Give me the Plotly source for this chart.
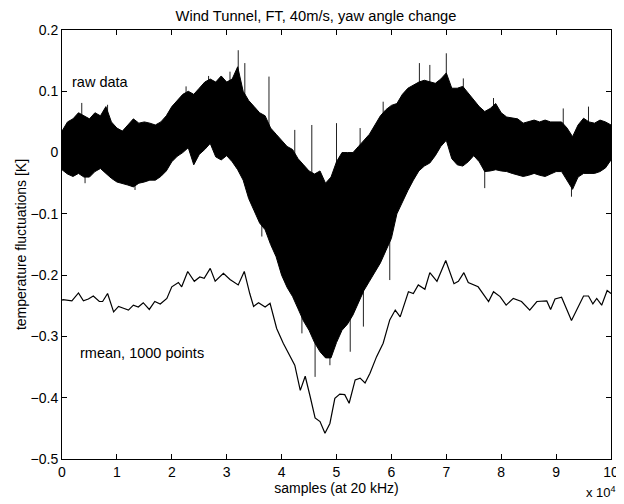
import plotly.graph_objects as go

# ---------------- data (x in units of 10^4 samples) ----------------
raw_x = [round(i * 0.1, 1) for i in range(101)]
raw_upper = [0.035, 0.05, 0.055, 0.065, 0.06, 0.055, 0.065, 0.06, 0.075, 0.05,
             0.04, 0.035, 0.045, 0.055, 0.048, 0.05, 0.048, 0.045, 0.05, 0.06,
             0.075, 0.085, 0.095, 0.10, 0.095, 0.105, 0.115, 0.12, 0.115, 0.125,
             0.115, 0.12, 0.14, 0.10, 0.085, 0.075, 0.065, 0.06, 0.04, 0.03,
             0.02, 0.01, 0.005, -0.01, -0.02, -0.03, -0.035, -0.03, -0.05, -0.04,
             -0.015, 0.0, 0.0, 0.0, 0.01, 0.02, 0.03, 0.045, 0.06, 0.07,
             0.077, 0.08, 0.095, 0.105, 0.11, 0.115, 0.118, 0.116, 0.113, 0.12,
             0.13, 0.105, 0.105, 0.108, 0.097, 0.085, 0.075, 0.067, 0.072, 0.08,
             0.065, 0.058, 0.056, 0.055, 0.048, 0.05, 0.053, 0.05, 0.053, 0.05,
             0.05, 0.05, 0.04, 0.026, 0.045, 0.056, 0.05, 0.048, 0.053, 0.05,
             0.045]
raw_lower = [-0.028, -0.035, -0.039, -0.034, -0.04, -0.04, -0.031, -0.026, -0.034, -0.042,
             -0.048, -0.05, -0.053, -0.056, -0.05, -0.048, -0.045, -0.045, -0.039, -0.03,
             -0.015, -0.006, 0.0, 0.008, -0.02, -0.003, 0.005, 0.015, -0.007, -0.012,
             -0.005, -0.015, -0.028, -0.045, -0.075, -0.095, -0.115, -0.126, -0.15, -0.17,
             -0.2, -0.22, -0.235, -0.255, -0.275, -0.29, -0.31, -0.325, -0.335, -0.335,
             -0.31, -0.29, -0.28, -0.265, -0.245, -0.225, -0.21, -0.195, -0.18, -0.16,
             -0.14, -0.1, -0.08, -0.062, -0.045, -0.03, -0.022, -0.017, -0.005, 0.01,
             0.02, -0.01, -0.02, -0.022, -0.015, -0.005, -0.015, -0.031, -0.03, -0.028,
             -0.03, -0.031, -0.034, -0.036, -0.039, -0.037, -0.034, -0.037, -0.039, -0.035,
             -0.031, -0.031, -0.045, -0.06, -0.04, -0.034, -0.034, -0.034, -0.031, -0.025,
             -0.012]

# isolated spikes of the raw signal that stick out of the dense band (x, tip value)
spike_x = [0.36, 0.83, 2.26, 2.67, 3.06, 3.21, 3.33, 3.77, 4.24, 4.55, 5.0, 5.43,
           5.85, 6.51, 6.70, 7.0, 7.31, 7.86, 9.13, 9.59,
           0.42, 1.33, 3.64, 4.37, 4.61, 4.88, 5.25, 5.49, 5.94, 5.97, 7.70, 9.28]
spike_tip = [0.081, 0.078, 0.108, 0.125, 0.132, 0.167, 0.146, 0.124, 0.037, 0.045, 0.048, 0.04,
             0.083, 0.146, 0.143, 0.162, 0.121, 0.089, 0.072, 0.075,
             -0.05, -0.061, -0.137, -0.295, -0.366, -0.347, -0.325, -0.284, -0.132, -0.208,
             -0.058, -0.072]

rmean_x = [0.0, 0.02, 0.18, 0.30, 0.39, 0.48, 0.57, 0.68, 0.74, 0.83, 0.94, 1.03,
           1.12, 1.21, 1.30, 1.39, 1.48, 1.59, 1.69, 1.79, 1.91, 2.0, 2.12, 2.18,
           2.29, 2.41, 2.51, 2.59, 2.70, 2.79, 2.94, 3.06, 3.21, 3.32, 3.42, 3.49,
           3.58, 3.70, 3.79, 3.91, 4.03, 4.15, 4.24, 4.34, 4.43, 4.52, 4.61, 4.70,
           4.79, 4.88, 4.97, 5.06, 5.15, 5.23, 5.34, 5.43, 5.52, 5.61, 5.73, 5.85,
           5.97, 6.07, 6.16, 6.31, 6.40, 6.49, 6.61, 6.70, 6.83, 6.99, 7.14, 7.22,
           7.32, 7.40, 7.58, 7.77, 7.86, 7.98, 8.09, 8.22, 8.37, 8.52, 8.65, 8.83,
           8.90, 8.98, 9.10, 9.28, 9.50, 9.59, 9.67, 9.74, 9.83, 9.93, 10.0]
rmean_y = [-0.241, -0.24, -0.242, -0.229, -0.242, -0.239, -0.234, -0.243, -0.243, -0.23,
           -0.26, -0.251, -0.254, -0.257, -0.249, -0.252, -0.245, -0.256, -0.243, -0.247,
           -0.238, -0.219, -0.212, -0.219, -0.194, -0.21, -0.203, -0.205, -0.189, -0.21,
           -0.197, -0.207, -0.216, -0.194, -0.23, -0.251, -0.245, -0.252, -0.246, -0.287,
           -0.311, -0.333, -0.347, -0.388, -0.365, -0.398, -0.433, -0.439, -0.458, -0.442,
           -0.401, -0.394, -0.395, -0.409, -0.371, -0.368, -0.376, -0.36, -0.333, -0.311,
           -0.273, -0.257, -0.268, -0.227, -0.23, -0.216, -0.223, -0.196, -0.21, -0.176,
           -0.214, -0.21, -0.196, -0.212, -0.219, -0.243, -0.227, -0.235, -0.249, -0.238,
           -0.243, -0.257, -0.243, -0.242, -0.256, -0.239, -0.236, -0.274, -0.234, -0.234,
           -0.247, -0.238, -0.249, -0.225, -0.23]

x_ticks = list(range(0, 11))
y_ticks = [0.2, 0.1, 0, -0.1, -0.2, -0.3, -0.4, -0.5]
y_labels = ["0.2", "0.1", "0", "\u22120.1", "\u22120.2", "\u22120.3", "\u22120.4", "\u22120.5"]

FONT = "Liberation Sans, Arial, sans-serif"

# spikes: vertical segments from the band centre (nearest sample) to the tip
sx, sy = [], []
for x, tip in zip(spike_x, spike_tip):
    i = int(round(x * 10))
    mid = (raw_upper[i] + raw_lower[i]) / 2
    sx += [x, x, None]
    sy += [mid, tip, None]

fig = go.Figure()
fig.add_trace(go.Scatter(x=sx, y=sy, mode="lines",
                         line=dict(color="#222222", width=1), showlegend=False,
                         hoverinfo="skip"))
fig.add_trace(go.Scatter(x=raw_x, y=raw_lower, mode="lines",
                         line=dict(color="black", width=1), showlegend=False,
                         hoverinfo="skip"))
fig.add_trace(go.Scatter(x=raw_x, y=raw_upper, mode="lines", fill="tonexty",
                         fillcolor="black", line=dict(color="black", width=1),
                         showlegend=False, hoverinfo="skip"))
fig.add_trace(go.Scatter(x=rmean_x, y=rmean_y, mode="lines",
                         line=dict(color="black", width=1.2), showlegend=False))

axis_common = dict(showgrid=False, zeroline=False, showline=True, linecolor="black",
                   linewidth=1, mirror="ticks", ticks="inside", ticklen=5,
                   tickcolor="black", automargin=False,
                   tickfont=dict(family=FONT, size=14, color="black"))

fig.update_xaxes(range=[0, 10], tickvals=x_ticks, ticktext=[str(v) for v in x_ticks],
                 title=dict(text="samples (at 20 kHz)", standoff=0,
                            font=dict(family=FONT, size=14, color="black")),
                 **axis_common)
fig.update_yaxes(range=[-0.5, 0.2], tickvals=y_ticks, ticktext=y_labels,
                 title=dict(text="temperature fluctuations [K]", standoff=0,
                            font=dict(family=FONT, size=14, color="black")),
                 **axis_common)

fig.add_annotation(x=0.15, y=0.115, xref="x", yref="y", text="raw data",
                   showarrow=False, xanchor="left", yanchor="middle",
                   font=dict(family=FONT, size=14.5, color="black"))
fig.add_annotation(x=0.3, y=-0.327, xref="x", yref="y", text="rmean, 1000 points",
                   showarrow=False, xanchor="left", yanchor="middle",
                   font=dict(family=FONT, size=14.5, color="black"))
fig.add_annotation(x=1.012, y=-0.077, xref="paper", yref="paper",
                   text="x 10<sup>4</sup>", showarrow=False,
                   xanchor="right", yanchor="middle",
                   font=dict(family=FONT, size=13, color="black"))

# the page body adds an 8px offset, so the figure is 8px smaller on each side
fig.update_layout(
    width=616, height=496,
    margin=dict(l=54, r=13, t=22, b=45),
    paper_bgcolor="white", plot_bgcolor="white",
    title=dict(text="Wind Tunnel, FT, 40m/s, yaw angle change", x=0.5, xanchor="center",
               y=0.995, yanchor="top", font=dict(family=FONT, size=14.7, color="black")),
)

fig.write_html("out.html")
